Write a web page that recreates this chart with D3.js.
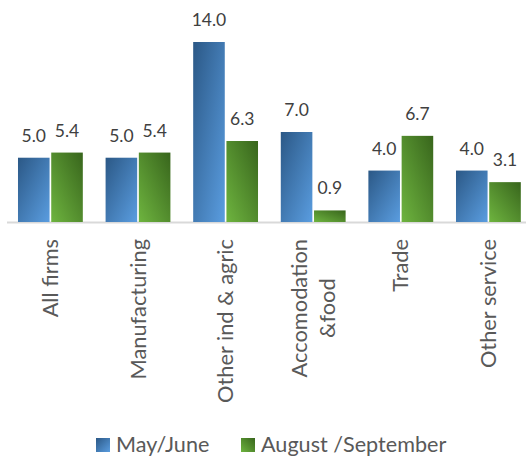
<!DOCTYPE html>
<html><head><meta charset="utf-8">
<script src="https://cdn.jsdelivr.net/npm/d3@7"></script>
<style>
html,body{margin:0;padding:0;background:#fff;}
svg{display:block;font-family:Lato,"Open Sans",sans-serif;}
</style></head>
<body><svg id="c" width="526" height="458"></svg>
<script>
const categories = ["All firms","Manufacturing","Other ind & agric","Accomodation &food","Trade","Other service"];
const categoryLines = [["All firms"],["Manufacturing"],["Other ind & agric"],["Accomodation","&food"],["Trade"],["Other service"]];
const seriesNames = ["May/June","August /September"];
const mayJune = [5.0,5.0,14.0,7.0,4.0,4.0];
const augSep = [5.4,5.4,6.3,0.9,6.7,3.1];
const seriesValues = [mayJune, augSep];

const svg = d3.select("#c");
const defs = svg.append("defs");
const gb = defs.append("linearGradient").attr("id","gBlue").attr("x1",0).attr("y1",0).attr("x2",1).attr("y2",1);
gb.append("stop").attr("offset","0%").attr("stop-color","#2b5886");
gb.append("stop").attr("offset","100%").attr("stop-color","#5a9de0");
const gg = defs.append("linearGradient").attr("id","gGreen").attr("x1",0).attr("y1",1).attr("x2",1).attr("y2",0);
gg.append("stop").attr("offset","0%").attr("stop-color","#6eb43f");
gg.append("stop").attr("offset","100%").attr("stop-color","#38651c");
const fills = ["url(#gBlue)","url(#gGreen)"];

const baseY = 222;
const x0 = d3.scaleBand().domain(categories).range([6.6, 532.2]).paddingInner(0.26).paddingOuter(0.13);
const x1 = d3.scaleBand().domain(seriesNames).range([0, x0.bandwidth()]).paddingInner(0.05);
const y = d3.scaleLinear().domain([0,14]).range([baseY, 42]);

// axis line
svg.append("line").attr("x1",7).attr("x2",526).attr("y1",baseY+0.5).attr("y2",baseY+0.5)
  .attr("stroke","#d9d9d9").attr("stroke-width",2);

const groups = svg.append("g").selectAll("g").data(categories).join("g")
  .attr("transform", d => `translate(${x0(d)},0)`);

seriesNames.forEach((s, si) => {
  groups.append("rect")
    .attr("x", x1(s))
    .attr("width", x1.bandwidth())
    .attr("y", (d,i) => y(seriesValues[si][i]))
    .attr("height", (d,i) => baseY - y(seriesValues[si][i]))
    .attr("fill", fills[si]);
  groups.append("text")
    .attr("x", x1(s) + x1.bandwidth()/2)
    .attr("y", (d,i) => y(seriesValues[si][i]) - 16)
    .attr("text-anchor","middle")
    .attr("font-size", 17.5)
    .attr("fill","#404040")
    .text((d,i) => seriesValues[si][i].toFixed(1));
});

// category labels
const labelTop = 239;
categories.forEach((c, i) => {
  const lines = categoryLines[i];
  const cx = x0(c) + x0.bandwidth()/2;
  const lh = 28;
  const t = svg.append("text")
    .attr("transform", `translate(${cx},${labelTop}) rotate(-90)`)
    .attr("font-size", 21.8)
    .attr("fill","#595959");
  const spans = lines.map((ln, li) => t.append("tspan")
      .attr("y", (li - (lines.length-1)/2) * lh)
      .attr("dy","0.35em")
      .text(ln));
  if (lines.length === 1) {
    t.attr("text-anchor","end");
    spans[0].attr("x", 0);
  } else {
    const maxLen = d3.max(spans, sp => sp.node().getComputedTextLength());
    t.attr("text-anchor","middle");
    spans.forEach(sp => sp.attr("x", -maxLen/2));
  }
});

// legend
const legendX = [96, 241];
seriesNames.forEach((s, si) => {
  svg.append("rect").attr("x", legendX[si]).attr("y", 438).attr("width", 14).attr("height", 14).attr("fill", fills[si]);
  svg.append("text").attr("x", legendX[si] + 20).attr("y", 452).attr("font-size", 21.6).attr("fill","#595959").text(s);
});
</script></body></html>
